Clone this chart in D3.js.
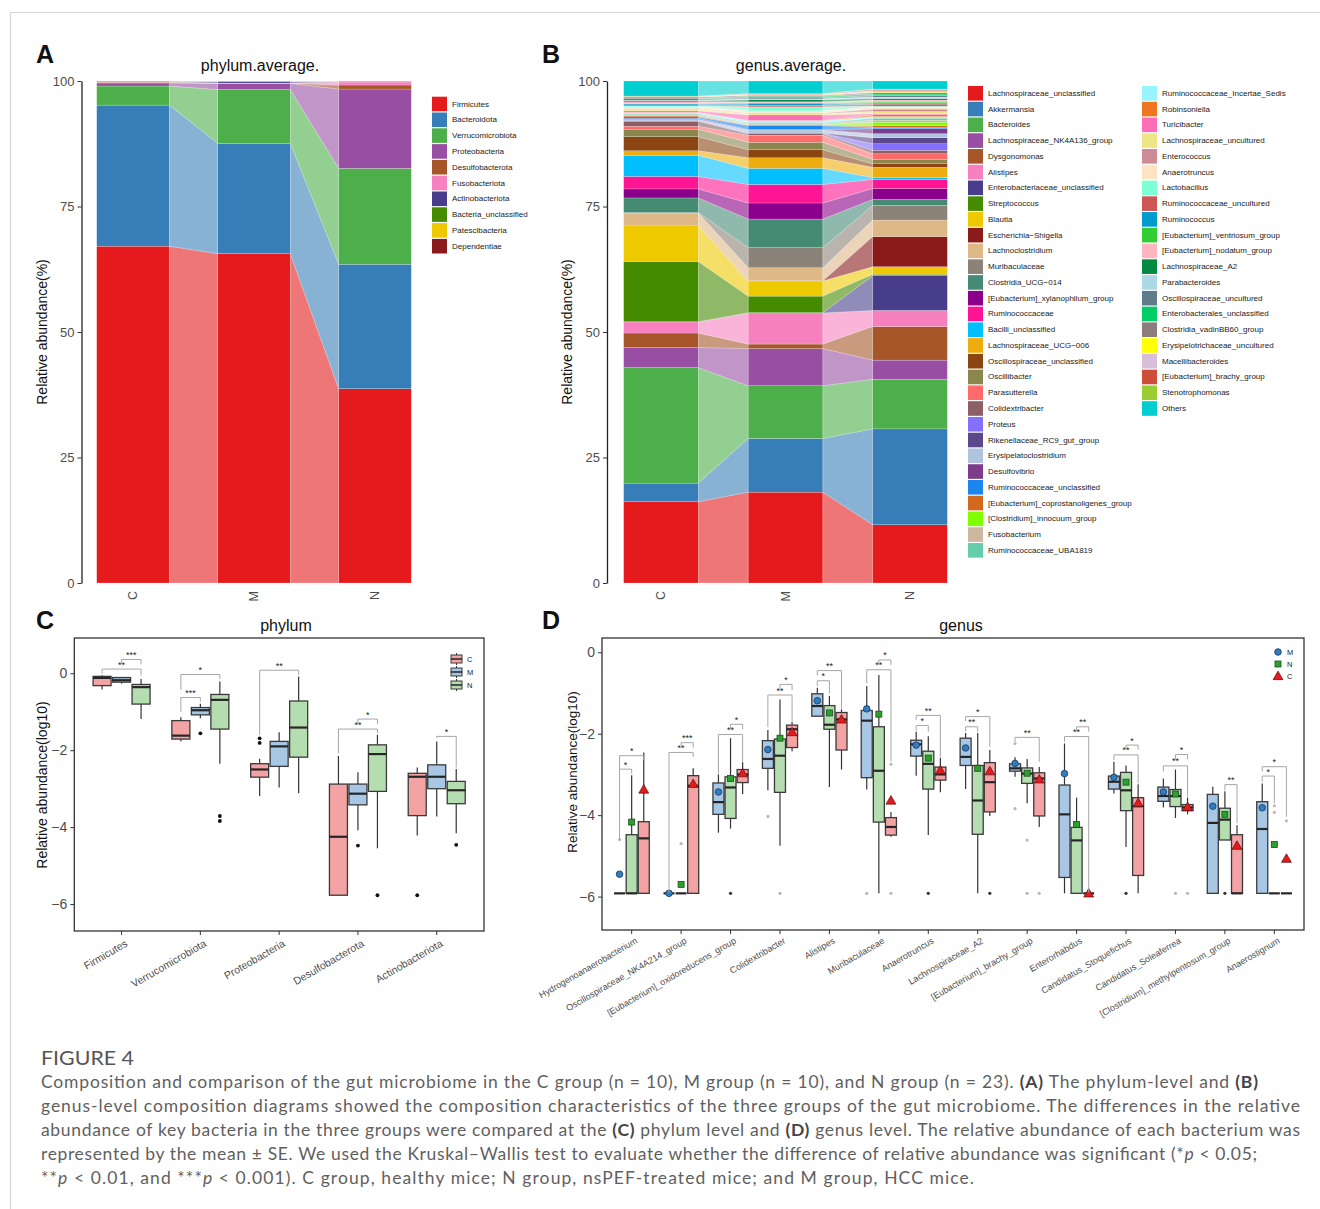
<!DOCTYPE html>
<html><head><meta charset="utf-8">
<script src="https://cdn.jsdelivr.net/npm/d3@7"></script>
<style>body{margin:0;background:#fff}svg text{font-family:"Liberation Sans",Arial,sans-serif}</style>
</head><body><svg id="fig" width="1320" height="1209"></svg>
<script>
// ---------------- DATA ----------------
const groups = ["C","M","N"];

const phylumNames = ["Firmicutes","Bacteroidota","Verrucomicrobiota","Proteobacteria","Desulfobacterota","Fusobacteriota","Actinobacteriota","Bacteria_unclassified","Patescibacteria","Dependentiae"];
const phylumColors = ["#E41A1C","#377EB8","#4DAF4A","#984EA3","#A65628","#F781BF","#483D8B","#458B00","#EEC900","#8B1A1A"];
const phylumC = [67.1,28.1,3.8,0.6,0.15,0.05,0.15,0.03,0.01,0.01];
const phylumM = [65.6,22.0,10.7,1.2,0.05,0.05,0.35,0.02,0.02,0.01];
const phylumN = [38.7,24.8,19.1,15.8,0.8,0.6,0.1,0.05,0.03,0.02];

const genusNames = ["Lachnospiraceae_unclassified","Akkermansia","Bacteroides","Lachnospiraceae_NK4A136_group","Dysgonomonas","Alistipes","Enterobacteriaceae_unclassified","Streptococcus","Blautia","Escherichia\u2212Shigella","Lachnoclostridium","Muribaculaceae","Clostridia_UCG\u2212014","[Eubacterium]_xylanophilum_group","Ruminococcaceae","Bacilli_unclassified","Lachnospiraceae_UCG\u2212006","Oscillospiraceae_unclassified","Oscillibacter","Parasutterella","Colidextribacter","Proteus","Rikenellaceae_RC9_gut_group","Erysipelatoclostridium","Desulfovibrio","Ruminococcaceae_unclassified","[Eubacterium]_coprostanoligenes_group","[Clostridium]_innocuum_group","Fusobacterium","Ruminococcaceae_UBA1819","Ruminococcaceae_Incertae_Sedis","Robinsoniella","Turicibacter","Lachnospiraceae_uncultured","Enterococcus","Anaerotruncus","Lactobacillus","Ruminococcaceae_uncultured","Ruminococcus","[Eubacterium]_ventriosum_group","[Eubacterium]_nodatum_group","Lachnospiraceae_A2","Parabacteroides","Oscillospiraceae_uncultured","Enterobacterales_unclassified","Clostridia_vadinBB60_group","Erysipelotrichaceae_uncultured","Macellibacteroides","[Eubacterium]_brachy_group","Stenotrophomonas","Others"];
const genusColors = ["#E41A1C","#377EB8","#4DAF4A","#984EA3","#A65628","#F781BF","#483D8B","#458B00","#EEC900","#8B1A1A","#DEB887","#8B8378","#458B74","#8B008B","#FF1493","#00BFFF","#EEAD0E","#8B4513","#8B864E","#FF6A6A","#8B5F65","#8470FF","#5D478B","#B0C4DE","#7D3C8B","#1C86EE","#D2691E","#7FFF00","#CDB79E","#66CDAA","#98F5FF","#EE7621","#FF6EB4","#EEE685","#CD8C95","#FFE4C4","#7FFFD4","#CD5555","#009ACD","#32CD32","#FFB6C1","#008B45","#ADD8E6","#607B8B","#00CD66","#8B7D7B","#FFFF00","#D8BFD8","#CD4F39","#9ACD32","#00CED1"];
const genusC = [16.2,3.7,23.0,4.0,2.9,2.2,0.05,12.0,7.2,0.05,2.4,0.1,2.9,1.8,2.5,4.2,0.9,2.8,1.5,0.6,1.0,0.05,0.1,0.2,0.2,0.3,0.2,0.05,0.2,0.2,0.2,0.05,0.3,0.4,0.1,0.3,0.2,0.2,0.2,0.1,0.3,0.2,0.1,0.3,0.05,0.3,0.05,0.05,0.05,0.05,3.0];
const genusM = [18.1,10.7,10.5,7.4,0.9,6.2,0.05,3.3,3.0,0.05,2.6,4.0,5.7,3.2,3.7,3.2,2.1,1.6,1.5,1.4,0.3,0.05,0.1,0.6,0.1,0.8,0.1,0.05,0.2,0.2,0.4,0.05,1.1,0.3,0.1,0.4,0.8,0.3,0.3,0.2,0.2,0.4,0.2,0.2,0.3,0.2,0.1,0.1,0.1,0.05,2.5];
const genusN = [11.6,19.1,9.9,3.8,6.7,3.2,6.9,0.3,1.5,6.0,3.3,2.9,1.2,2.2,1.8,0.4,2.0,0.7,0.9,1.1,0.7,1.3,1.2,0.8,1.0,0.3,0.3,0.7,0.4,0.4,0.3,0.4,0.2,0.4,0.5,0.4,0.2,0.4,0.2,0.2,0.4,0.3,0.3,0.3,0.3,0.3,0.1,0.3,0.2,0.1,1.6];

// Panel C: phylum boxplots, [lower whisker, q1, median, q3, upper whisker] (log10)
const phylaBox = ["Firmicutes","Verrucomicrobiota","Proteobacteria","Desulfobacterota","Actinobacteriota"];
const phylaBoxC = [[-0.42,-0.32,-0.12,-0.08,-0.05],[-1.77,-1.71,-1.62,-1.23,-1.14],[-3.19,-2.70,-2.50,-2.35,-2.22],[-5.77,-5.77,-4.25,-2.88,-2.15],[-4.22,-3.70,-2.69,-2.60,-2.45]];
const phylaBoxM = [[-0.27,-0.23,-0.18,-0.11,-0.10],[-1.17,-1.08,-0.96,-0.89,-0.79],[-2.97,-2.42,-1.90,-1.77,-1.53],[-4.08,-3.42,-3.13,-2.88,-2.57],[-3.72,-3.00,-2.69,-2.38,-1.77]];
const phylaBoxN = [[-1.19,-0.80,-0.36,-0.29,-0.15],[-2.35,-1.45,-0.69,-0.55,-0.21],[-3.12,-2.18,-1.41,-0.72,-0.08],[-4.55,-3.07,-2.10,-1.86,-1.60],[-4.16,-3.39,-3.04,-2.81,-2.49]];
// outliers: [category index, group, value]
const phylaOutliers = [[1,"M",-1.56],[1,"N",-3.71],[1,"N",-3.84],[2,"C",-1.69],[2,"C",-1.81],[3,"M",-4.48],[3,"N",-5.77],[4,"C",-5.77],[4,"N",-4.46]];
// significance: [category, group1, group2, bar y, left leg end, right leg end, label]
const phylaSig = [[0,"C","N",0.11,0.0,-0.06,"**"],[0,"M","N",0.36,0.26,0.23,"***"],[1,"C","N",-0.03,-0.43,-0.15,"*"],[1,"C","M",-0.63,-1.0,-0.74,"***"],[2,"C","N",0.08,-1.6,-0.04,"**"],[3,"C","N",-1.45,-2.08,-1.56,"**"],[3,"M","N",-1.19,-1.34,-1.32,"*"],[4,"M","N",-1.64,-1.69,-2.45,"*"]];

// Panel D: genus boxplots
const genusBox = ["Hydrogenoanaerobacterium","Oscillospiraceae_NK4A214_group","[Eubacterium]_oxidoreducens_group","Colidextribacter","Alistipes","Muribaculaceae","Anaerotruncus","Lachnospiraceae_A2","[Eubacterium]_brachy_group","Enterorhabdus","Candidatus_Stoquefichus","Candidatus_Soleaferrea","[Clostridium]_methylpentosum_group","Anaerostignum"];
const genusBoxM = [[-5.92,-5.92,-5.92,-5.92,-5.92],[-5.92,-5.92,-5.92,-5.92,-5.92],[-4.43,-3.98,-3.68,-3.21,-3.0],[-3.39,-2.85,-2.62,-2.17,-1.91],[-1.57,-1.57,-1.32,-1.02,-0.87],[-3.37,-3.08,-1.68,-1.43,-0.83],[-3.03,-2.55,-2.26,-2.16,-1.95],[-3.36,-2.78,-2.57,-2.11,-1.98],[-3.06,-2.92,-2.85,-2.74,-2.58],[-5.92,-5.53,-3.98,-3.26,-2.24],[-3.47,-3.36,-3.18,-3.04,-2.69],[-3.81,-3.66,-3.53,-3.31,-3.1],[-5.92,-5.92,-4.19,-3.49,-3.3],[-5.92,-5.92,-4.34,-3.67,-3.22]];
const genusBoxN = [[-5.92,-5.92,-5.92,-4.48,-3.02],[-5.92,-5.92,-5.92,-5.92,-5.92],[-4.33,-4.08,-3.32,-3.06,-2.11],[-4.75,-3.44,-2.54,-2.13,-1.16],[-3.31,-1.89,-1.78,-1.31,-1.07],[-5.92,-4.17,-2.91,-1.83,-0.56],[-4.49,-3.36,-2.74,-2.43,-2.06],[-5.92,-4.47,-3.64,-2.78,-1.98],[-3.71,-3.22,-2.98,-2.84,-2.62],[-5.92,-5.92,-4.62,-4.30,-3.57],[-4.78,-3.89,-3.39,-2.95,-2.78],[-4.07,-3.79,-3.53,-3.37,-2.88],[-4.61,-4.61,-4.11,-3.83,-3.41],[-5.92,-5.92,-5.92,-5.92,-5.92]];
const genusBoxC = [[-5.92,-5.92,-4.57,-4.16,-2.46],[-5.92,-5.92,-3.28,-3.03,-2.85],[-3.48,-3.2,-3.0,-2.88,-2.7],[-2.43,-2.34,-1.89,-1.79,-1.71],[-2.88,-2.4,-1.65,-1.48,-1.4],[-4.53,-4.49,-4.29,-4.06,-3.92],[-3.44,-3.14,-3.0,-2.82,-2.59],[-4.02,-3.92,-3.19,-2.71,-2.4],[-4.29,-4.02,-3.1,-2.96,-2.82],[-5.92,-5.92,-5.92,-5.92,-5.92],[-5.92,-5.48,-3.78,-3.57,-3.24],[-3.98,-3.89,-3.81,-3.74,-3.57],[-5.92,-5.92,-5.92,-4.48,-4.25],[-5.92,-5.92,-5.92,-5.92,-5.92]];
const genusMeanM = [-5.45,-5.92,-3.43,-2.39,-1.19,-1.39,-2.28,-2.35,-2.73,-2.98,-3.07,-3.43,-3.78,-3.82];
const genusMeanN = [-4.17,-5.70,-3.10,-2.11,-1.49,-1.52,-2.60,-2.85,-2.97,-4.23,-3.19,-3.48,-3.98,-4.72];
const genusMeanC = [-3.37,-3.23,-2.97,-1.96,-1.65,-3.64,-2.90,-2.92,-3.12,-5.92,-3.70,-3.80,-4.75,-5.07];
// outliers: [genus index, group, value, dark]
const genusOutliers = [[0,"M",-4.6,0],[1,"N",-4.7,0],[2,"N",-5.92,1],[3,"M",-4.03,0],[3,"N",-5.92,0],[5,"M",-5.92,0],[5,"C",-2.75,0],[5,"C",-5.92,0],[6,"N",-5.92,1],[7,"C",-5.92,1],[8,"M",-2.24,0],[8,"M",-3.84,0],[8,"N",-4.61,0],[8,"N",-5.92,0],[8,"C",-5.92,0],[10,"N",-5.92,1],[11,"N",-5.92,0],[11,"C",-5.92,0],[12,"N",-5.92,1],[13,"N",-3.77,0],[13,"N",-3.93,0],[13,"C",-4.14,0]];
const genusSig = [[0,"M","N",-2.87,-4.61,-2.98,"*"],[0,"M","C",-2.54,-2.87,-2.65,"*"],[1,"M","C",-2.46,-5.9,-2.57,"**"],[1,"N","C",-2.22,-2.34,-2.34,"***"],[2,"M","C",-2.02,-2.98,-2.69,"**"],[2,"N","C",-1.77,-1.89,-1.89,"*"],[3,"M","C",-1.05,-1.84,-1.7,"**"],[3,"N","C",-0.79,-0.93,-0.93,"*"],[4,"M","N",-0.7,-0.83,-1.01,"*"],[4,"M","C",-0.45,-0.57,-1.38,"**"],[5,"M","C",-0.43,-0.76,-2.69,"**"],[5,"N","C",-0.19,-0.31,-0.31,"*"],[6,"M","N",-1.8,-1.93,-1.95,"*"],[6,"M","C",-1.55,-1.66,-2.57,"**"],[7,"M","N",-1.83,-1.95,-1.95,"**"],[7,"M","C",-1.58,-1.69,-2.32,"*"],[8,"M","C",-2.09,-2.2,-2.69,"**"],[9,"M","C",-2.07,-2.2,-5.9,"**"],[9,"N","C",-1.83,-1.95,-1.95,"**"],[10,"M","C",-2.52,-2.65,-3.22,"**"],[10,"N","C",-2.28,-2.39,-2.39,"*"],[11,"M","C",-2.79,-2.93,-3.55,"**"],[11,"N","C",-2.51,-2.63,-2.63,"*"],[12,"N","C",-3.25,-3.39,-4.2,"**"],[13,"M","N",-3.04,-3.18,-3.71,"*"],[13,"M","C",-2.81,-2.93,-4.04,"*"]];

const logTicks = [0,-2,-4,-6];
const pctTicks = [0,25,50,75,100];

// ---------------- DRAW ----------------
const svg = d3.select("#fig");
svg.append("rect").attr("width",1320).attr("height",1209).attr("fill","#fff");
svg.append("path").attr("d","M10.5,1209V12.5H1320").attr("fill","none").attr("stroke","#d6d6d6").attr("stroke-width",1.2);

const boxFill = {C:"#F3A3A3", M:"#A8C7E5", N:"#B5DEB0"};
const axisGray = "#4D4D4D";

function panelLetter(t,x,y){ svg.append("text").attr("x",x).attr("y",y).attr("font-size",25).attr("font-weight","bold").attr("fill","#111").text(t); }
function title(t,x,y){ svg.append("text").attr("x",x).attr("y",y).attr("text-anchor","middle").attr("font-size",16).attr("fill","#111").text(t); }
function yTitle(t,x,y,fs){ svg.append("text").attr("transform",`translate(${x},${y}) rotate(-90)`).attr("text-anchor","middle").attr("font-size",fs).attr("fill","#111").text(t); }

function styleAxis(ax, fs){
  ax.selectAll("text").attr("font-size",fs).attr("fill",axisGray).style("font-family",'"Liberation Sans",Arial,sans-serif');
  ax.selectAll("line").attr("stroke","#333");
  ax.select(".domain").attr("stroke","#222").attr("stroke-width",1.3);
}

// ----- Alluvial stacked bars -----
function alluvial(names, colors, cols, xRange, axisX){
  const rows = groups.map((grp,i)=>{ const o={group:grp}; names.forEach((n,j)=>o[n]=cols[i][j]); return o; });
  const series = d3.stack().keys(names)(rows);
  const x = d3.scalePoint().domain(groups).range(xRange);
  const bw = x.step()*0.6;
  const y = d3.scaleLinear().domain([0,100]).range([583,81]);
  const g = svg.append("g");
  series.forEach((s,j)=>{
    for(let i=0;i<groups.length-1;i++){
      const a=s[i], b=s[i+1];
      if(a[1]-a[0]<=0 && b[1]-b[0]<=0) continue;
      const x0=x(groups[i])+bw/2, x1=x(groups[i+1])-bw/2;
      g.append("path").attr("d",`M${x0},${y(a[1])}L${x1},${y(b[1])}L${x1},${y(b[0])}L${x0},${y(a[0])}Z`)
        .attr("fill",colors[j]).attr("fill-opacity",0.6).attr("stroke","#fff").attr("stroke-width",0.35).attr("stroke-opacity",0.6);
    }
  });
  series.forEach((s,j)=>{
    s.forEach((d,i)=>{
      if(d[1]-d[0]<=0) return;
      g.append("rect").attr("x",x(groups[i])-bw/2).attr("y",y(d[1])).attr("width",bw).attr("height",y(d[0])-y(d[1]))
        .attr("fill",colors[j]).attr("stroke","#fff").attr("stroke-width",0.35).attr("stroke-opacity",0.6);
    });
  });
  const ax = svg.append("g").attr("transform",`translate(${axisX},0)`).call(d3.axisLeft(y).tickValues(pctTicks).tickSize(4).tickSizeOuter(0).tickPadding(3));
  styleAxis(ax,13);
  groups.forEach(grp=>{
    svg.append("text").attr("transform",`translate(${x(grp)},591) rotate(-90)`).attr("text-anchor","end").attr("dominant-baseline","central")
      .attr("font-size",12.5).attr("fill",axisGray).text(grp);
  });
}

// Panel A
panelLetter("A",36,63);
title("phylum.average.",260,71);
alluvial(phylumNames, phylumColors, [phylumC,phylumM,phylumN], [133,375], 81.5);
yTitle("Relative abundance(%)",47,332,14);
phylumNames.forEach((n,i)=>{
  const yy = 104 + i*15.8;
  svg.append("rect").attr("x",432).attr("y",yy-7.3).attr("width",15).attr("height",14.6).attr("fill",phylumColors[i]);
  svg.append("text").attr("x",452).attr("y",yy).attr("dominant-baseline","central").attr("font-size",8).attr("fill","#1a1a1a").text(n);
});

// Panel B
panelLetter("B",542,63);
title("genus.average.",791,71);
alluvial(genusNames, genusColors, [genusC,genusM,genusN], [661,910], 607);
yTitle("Relative abundance(%)",572,332,14);
genusNames.forEach((n,i)=>{
  const col = i<30 ? 0 : 1;
  const r = i<30 ? i : i-30;
  const yy = 93.3 + r*15.76;
  const xs = col===0 ? 968 : 1142;
  svg.append("rect").attr("x",xs).attr("y",yy-7.3).attr("width",15).attr("height",14.6).attr("fill",genusColors[i]);
  svg.append("text").attr("x",xs+20).attr("y",yy).attr("dominant-baseline","central").attr("font-size",8).attr("fill","#1a1a1a").text(n);
});

// ----- Boxplot panels -----
function drawBox(g, cx, w, s, y, fill){
  g.append("line").attr("x1",cx).attr("x2",cx).attr("y1",y(s[0])).attr("y2",y(s[1])).attr("stroke","#333").attr("stroke-width",1.2);
  g.append("line").attr("x1",cx).attr("x2",cx).attr("y1",y(s[3])).attr("y2",y(s[4])).attr("stroke","#333").attr("stroke-width",1.2);
  g.append("rect").attr("x",cx-w/2).attr("y",y(s[3])).attr("width",w).attr("height",Math.max(0,y(s[1])-y(s[3])))
    .attr("fill",fill).attr("stroke","#3a3a3a").attr("stroke-width",1.3);
  g.append("line").attr("x1",cx-w/2).attr("x2",cx+w/2).attr("y1",y(s[2])).attr("y2",y(s[2])).attr("stroke","#262626").attr("stroke-width",2.2);
}
function drawSig(g, xa, xb, y, bar, la, lb, lab){
  g.append("path").attr("d",`M${xa},${y(la)}V${y(bar)}H${xb}V${y(lb)}`).attr("fill","none").attr("stroke","#a6a6a6").attr("stroke-width",1);
  g.append("text").attr("x",(xa+xb)/2).attr("y",y(bar)-1.5).attr("text-anchor","middle").attr("font-size",9).attr("fill","#222").text(lab);
}

// Panel C
panelLetter("C",36,629);
title("phylum",286,631);
{
  const x = d3.scaleBand().domain(phylaBox).range([74.3,484]).paddingInner(0).paddingOuter(0.1);
  const y = d3.scaleLinear().domain([-6.70,0.918]).range([931,638]);
  const off = {C:-19.5, M:0, N:19.5};
  const boxes = {C:phylaBoxC, M:phylaBoxM, N:phylaBoxN};
  const cxOf = (i,grp)=> x(phylaBox[i]) + x.bandwidth()/2 + off[grp];
  const g = svg.append("g");
  const ax = svg.append("g").attr("transform","translate(74.3,0)").call(d3.axisLeft(y).tickValues(logTicks).tickSize(4).tickPadding(3));
  styleAxis(ax,14); ax.select(".domain").remove();
  const bx = svg.append("g").attr("transform","translate(0,931)").call(d3.axisBottom(x).tickSize(4).tickFormat(""));
  bx.select(".domain").remove(); bx.selectAll("line").attr("stroke","#333");
  phylaBox.forEach((p,i)=>{
    ["C","M","N"].forEach(grp=> drawBox(g, cxOf(i,grp), 18, boxes[grp][i], y, boxFill[grp]));
    svg.append("text").attr("transform",`translate(${x(p)+x.bandwidth()/2+3},939) rotate(-30)`).attr("text-anchor","end").attr("dy","0.72em")
      .attr("font-size",10.5).attr("fill",axisGray).text(p);
  });
  phylaOutliers.forEach(o=> g.append("circle").attr("cx",cxOf(o[0],o[1])).attr("cy",y(o[2])).attr("r",1.9).attr("fill","#111"));
  phylaSig.forEach(s=> drawSig(g, cxOf(s[0],s[1]), cxOf(s[0],s[2]), y, s[3], s[4], s[5], s[6]));
  svg.append("rect").attr("x",74.3).attr("y",638).attr("width",484-74.3).attr("height",293).attr("fill","none").attr("stroke","#333").attr("stroke-width",1.3);
  yTitle("Relative abundance(log10)",47,785,14);
  // legend
  ["C","M","N"].forEach((grp,i)=>{
    const cy = 659 + i*13, lx = 451;
    svg.append("line").attr("x1",lx+5.5).attr("x2",lx+5.5).attr("y1",cy-6).attr("y2",cy+6).attr("stroke","#333").attr("stroke-width",1);
    svg.append("rect").attr("x",lx).attr("y",cy-4).attr("width",11).attr("height",8).attr("fill",boxFill[grp]).attr("stroke","#3a3a3a").attr("stroke-width",1);
    svg.append("line").attr("x1",lx).attr("x2",lx+11).attr("y1",cy).attr("y2",cy).attr("stroke","#222").attr("stroke-width",1.5);
    svg.append("text").attr("x",lx+16).attr("y",cy).attr("dominant-baseline","central").attr("font-size",7.5).attr("fill","#222").text(grp);
  });
}

// Panel D
panelLetter("D",542,629);
title("genus",961,631);
{
  const x = d3.scaleBand().domain(genusBox).range([602,1304]).paddingInner(0).paddingOuter(0.1);
  const y = d3.scaleLinear().domain([-6.82,0.35]).range([930,638]);
  const off = {M:-12.1, N:0, C:12.1};
  const boxes = {M:genusBoxM, N:genusBoxN, C:genusBoxC};
  const means = {M:genusMeanM, N:genusMeanN, C:genusMeanC};
  const cxOf = (i,grp)=> x(genusBox[i]) + x.bandwidth()/2 + off[grp];
  const g = svg.append("g");
  const ax = svg.append("g").attr("transform","translate(602,0)").call(d3.axisLeft(y).tickValues(logTicks).tickSize(4).tickPadding(3));
  styleAxis(ax,14); ax.select(".domain").remove();
  const bx = svg.append("g").attr("transform","translate(0,930)").call(d3.axisBottom(x).tickSize(4).tickFormat(""));
  bx.select(".domain").remove(); bx.selectAll("line").attr("stroke","#333");
  genusBox.forEach((p,i)=>{
    ["M","N","C"].forEach(grp=> drawBox(g, cxOf(i,grp), 11, boxes[grp][i], y, boxFill[grp]));
    svg.append("text").attr("transform",`translate(${x(p)+x.bandwidth()/2+3},937) rotate(-30)`).attr("text-anchor","end").attr("dy","0.72em")
      .attr("font-size",9).attr("fill",axisGray).text(p);
  });
  genusOutliers.forEach(o=> g.append("circle").attr("cx",cxOf(o[0],o[1])).attr("cy",y(o[2])).attr("r",1.6).attr("fill",o[3]?"#333":"#b8b8b8"));
  const triangle = d3.symbol().type(d3.symbolTriangle).size(42);
  function marker(sel, grp, cx, cy){
    if(grp==="M") sel.append("circle").attr("cx",cx).attr("cy",cy).attr("r",3.3).attr("fill","#2F7EC4").attr("stroke","#1d3557").attr("stroke-width",0.8);
    else if(grp==="N") sel.append("rect").attr("x",cx-3).attr("y",cy-3).attr("width",6).attr("height",6).attr("fill","#2CA02C").attr("stroke","#1e4d1e").attr("stroke-width",0.8);
    else sel.append("path").attr("d",triangle()).attr("transform",`translate(${cx},${cy+0.8})`).attr("fill","#E41A1C").attr("stroke","#5a0f0f").attr("stroke-width",0.7);
  }
  genusBox.forEach((p,i)=> ["M","N","C"].forEach(grp=> marker(g, grp, cxOf(i,grp), y(means[grp][i]))));
  genusSig.forEach(s=> drawSig(g, cxOf(s[0],s[1]), cxOf(s[0],s[2]), y, s[3], s[4], s[5], s[6]));
  svg.append("rect").attr("x",602).attr("y",638).attr("width",702).attr("height",292).attr("fill","none").attr("stroke","#333").attr("stroke-width",1.3);
  yTitle("Relative abundance(log10)",577,772,13.5);
  ["M","N","C"].forEach((grp,i)=>{
    const cy = 652 + i*12;
    marker(svg, grp, 1278, cy);
    svg.append("text").attr("x",1287).attr("y",cy).attr("dominant-baseline","central").attr("font-size",7.5).attr("fill","#222").text(grp);
  });
}

// ----- Caption -----
const cap = svg.append("g").attr("fill","#5f5f5f").style("font-family","Lato, 'Open Sans', sans-serif");
cap.append("text").attr("x",41).attr("y",1065).attr("font-size",19).attr("textLength",93).attr("lengthAdjust","spacingAndGlyphs").style("font-family","Lato, sans-serif").attr("fill","#555").text("FIGURE 4");
const capLines = [
  {y:1088, len:1217, parts:[["Composition and comparison of the gut microbiome in the C group (n = 10), M group (n = 10), and N group (n = 23). ",""],["(A)","b"],[" The phylum-level and ",""],["(B)","b"]]},
  {y:1112, len:1259, parts:[["genus-level composition diagrams showed the composition characteristics of the three groups of the gut microbiome. The differences in the relative",""]]},
  {y:1136, len:1259, parts:[["abundance of key bacteria in the three groups were compared at the ",""],["(C)","b"],[" phylum level and ",""],["(D)","b"],[" genus level. The relative abundance of each bacterium was",""]]},
  {y:1160, len:1216, parts:[["represented by the mean \u00B1 SE. We used the Kruskal\u2013Wallis test to evaluate whether the difference of relative abundance was significant (*",""],["p","i"],[" < 0.05;",""]]},
  {y:1184, len:933, parts:[["**",""],["p","i"],[" < 0.01, and ***",""],["p","i"],[" < 0.001). C group, healthy mice; N group, nsPEF-treated mice; and M group, HCC mice.",""]]}
];
capLines.forEach(l=>{
  const t = cap.append("text").attr("x",41).attr("y",l.y).attr("font-size",17.5).attr("textLength",l.len).attr("lengthAdjust","spacing").style("font-family","Lato, sans-serif");
  l.parts.forEach(p=>{
    const ts = t.append("tspan").text(p[0]);
    if(p[1]==="b") ts.attr("font-weight","bold").attr("fill","#444");
    if(p[1]==="i") ts.attr("font-style","italic");
  });
});
</script></body></html>
